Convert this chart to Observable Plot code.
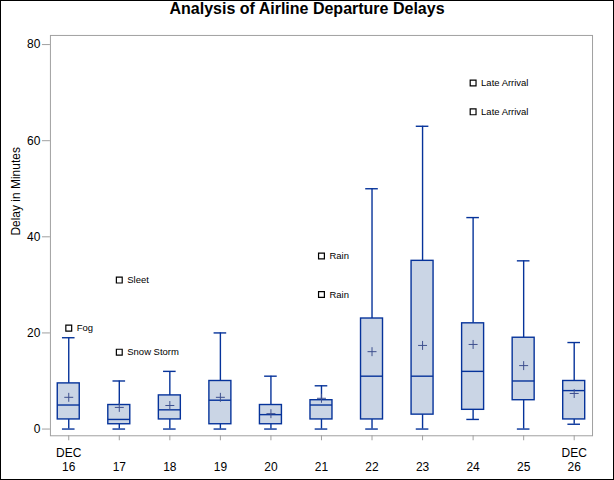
<!DOCTYPE html>
<html>
<head>
<meta charset="utf-8">
<script src="https://cdn.jsdelivr.net/npm/d3@7"></script>
<script src="https://cdn.jsdelivr.net/npm/@observablehq/plot@0.6"></script>
<style>
  html, body { margin: 0; padding: 0; background: #fff; }
  #wrap { position: relative; width: 614px; height: 480px; box-sizing: border-box; border: 1px solid #000; overflow: hidden; }
  #title { position: absolute; left: 0; top: 0; width: 614px; text-align: center; font: bold 16px "Liberation Sans", Arial, sans-serif; line-height: 18px; color: #000; }
  #chart { position: absolute; left: -1px; top: -1px; }
</style>
</head>
<body>
<div id="wrap">
  <div id="chart"></div>
  <div id="title" style="left:-1px;top:-1px">Analysis of Airline Departure Delays</div>
</div>
<script>
// Days (December)
const days = [16, 17, 18, 19, 20, 21, 22, 23, 24, 25, 26];
// Box statistics (minutes)
const whiskerLow = [0, 0, 0, 0, 0, 0, 0, 0, 2, 0, 1];
const q1 =         [2, 1, 2, 1, 1, 2, 2, 3, 4, 6, 2];
const median =     [5, 2, 4, 6, 3, 5, 11, 11, 12, 10, 8];
const q3 =         [9.5, 5, 7, 10, 5, 6, 23, 35, 22, 19, 10];
const whiskerHigh =[19, 10, 12, 20, 11, 9, 50, 63, 44, 35, 18];
const mean =       [6.6, 4.5, 4.9, 6.6, 3.2, 6.4, 16.1, 17.4, 17.6, 13.2, 7.4];
// Outliers
const outDay =    [16, 17, 17, 21, 21, 24, 24];
const outDelay =  [21, 31, 16, 36, 28, 72, 66];
const outReason = ["Fog", "Sleet", "Snow Storm", "Rain", "Rain", "Late Arrival", "Late Arrival"];
// Axis ticks
const yTicks = [0, 20, 40, 60, 80];
const tickLabels = ["DEC\n16", "17", "18", "19", "20", "21", "22", "23", "24", "25", "DEC\n26"];

const boxes = days.map((d, i) => ({
  day: d, lo: whiskerLow[i], q1: q1[i], med: median[i], q3: q3[i], hi: whiskerHigh[i], mean: mean[i]
}));
const outliers = outDay.map((d, i) => ({day: d, delay: outDelay[i], reason: outReason[i]}));
const labels = days.map((d, i) => ({day: d, label: tickLabels[i]}));

const blue = "#06339a";
const fill = "#cad5e5";
const grey = "#a0a0a0";

const chart = Plot.plot({
  width: 614,
  height: 480,
  marginTop: 35,
  marginBottom: 44,
  marginLeft: 50,
  marginRight: 21,
  style: {fontFamily: "'Liberation Sans', Arial, sans-serif", fontSize: "12px", background: "white", color: "black"},
  x: {type: "band", domain: days, paddingInner: 0.565, paddingOuter: 0.145, round: false, axis: null},
  y: {domain: [-1.4, 81.9], axis: null},
  marks: [
    Plot.frame({stroke: grey}),
    Plot.axisY({ticks: yTicks, tickSize: 8, tickPadding: 2, stroke: grey, fill: "black", fontSize: 12, label: null}),
    Plot.axisX({tickSize: 5, stroke: grey, tickFormat: () => "", label: null}),
    Plot.text(labels, {x: "day", text: "label", frameAnchor: "bottom", dy: 35, lineAnchor: "bottom", lineHeight: 1.17, fontSize: 12, fill: "black"}),
    Plot.text(["Delay in Minutes"], {frameAnchor: "left", dx: -34, rotate: -90, fontSize: 12, fill: "black"}),
    // whiskers
    Plot.ruleX(boxes, {x: "day", y1: "lo", y2: "q1", stroke: blue, strokeWidth: 1.4}),
    Plot.ruleX(boxes, {x: "day", y1: "q3", y2: "hi", stroke: blue, strokeWidth: 1.4}),
    Plot.tickY(boxes, {x: "day", y: "lo", stroke: blue, strokeWidth: 1.4, insetLeft: 4.7, insetRight: 4.7}),
    Plot.tickY(boxes, {x: "day", y: "hi", stroke: blue, strokeWidth: 1.4, insetLeft: 4.7, insetRight: 4.7}),
    // boxes
    Plot.barY(boxes, {x: "day", y1: "q1", y2: "q3", fill: fill, stroke: blue, strokeWidth: 1.4}),
    Plot.tickY(boxes, {x: "day", y: "med", stroke: blue, strokeWidth: 1.4}),
    // means
    Plot.dot(boxes, {x: "day", y: "mean", symbol: "plus", r: 3, stroke: "#3d4f8f", strokeWidth: 1}),
    // outliers
    Plot.dot(outliers, {x: "day", y: "delay", symbol: "square", r: 3.3, fill: "white", stroke: "black", strokeWidth: 1.2}),
    Plot.text(outliers, {x: "day", y: "delay", text: "reason", textAnchor: "start", dx: 8, fontSize: 9.5, fill: "black"})
  ]
});
document.getElementById("chart").appendChild(chart);
</script>
</body>
</html>
